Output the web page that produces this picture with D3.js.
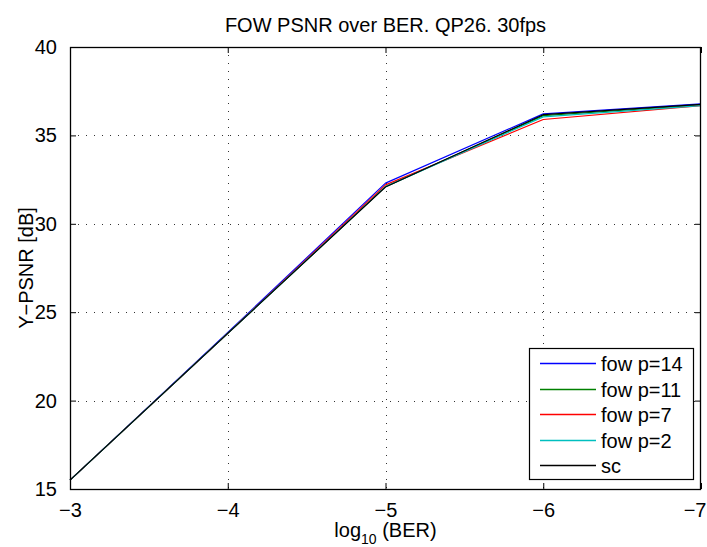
<!DOCTYPE html>
<html>
<head>
<meta charset="utf-8">
<script src="https://cdn.jsdelivr.net/npm/d3@7"></script>
<style>
  html, body { margin: 0; padding: 0; background: #fff; }
  svg text { font-family: "Liberation Sans", Arial, Helvetica, sans-serif; fill: #000; }
</style>
</head>
<body>
<svg id="chart" width="707" height="547"></svg>
<script>
// log10(BER) sample points
const logBER = [-3, -4, -5, -6, -7];

// Y-PSNR [dB] per configuration
const fowP14 = [15.5, 23.85, 32.3, 36.22, 36.78];
const fowP11 = [15.5, 23.8, 32.1, 36.12, 36.72];
const fowP7  = [15.5, 23.8, 32.2, 35.9, 36.68];
const fowP2  = [15.5, 23.8, 32.1, 36.05, 36.68];
const sc     = [15.5, 23.8, 32.08, 36.17, 36.75];

const seriesNames = ["fow p=14", "fow p=11", "fow p=7", "fow p=2", "sc"];
const seriesColors = ["#0000ff", "#008000", "#ff0000", "#00bfbf", "#000000"];
const seriesValues = [fowP14, fowP11, fowP7, fowP2, sc];

const xTicks = [-3, -4, -5, -6, -7];
const yTicks = [15, 20, 25, 30, 35, 40];

const titleText = "FOW PSNR over BER. QP26. 30fps";
const yLabelText = "Y\u2212PSNR [dB]";

const svg = d3.select("#chart");
const W = 707;
const m = { left: 70, right: 701, top: 47, bottom: 489 };

const x = d3.scaleLinear().domain([-3, -7]).range([m.left, m.right]);
const y = d3.scaleLinear().domain([15, 40]).range([m.bottom, m.top]);

const fontSize = 20;
const tickLen = 6;

// dotted grid
const grid = svg.append("g");
xTicks.slice(1, -1).forEach(t => {
  grid.append("line")
    .attr("x1", Math.round(x(t)) + 0.5).attr("x2", Math.round(x(t)) + 0.5)
    .attr("y1", m.top).attr("y2", m.bottom)
    .attr("stroke", "#333").attr("stroke-width", 1)
    .attr("stroke-dasharray", "1,7");
});
yTicks.slice(1, -1).forEach(t => {
  grid.append("line")
    .attr("x1", m.left).attr("x2", m.right)
    .attr("y1", Math.round(y(t)) + 0.5).attr("y2", Math.round(y(t)) + 0.5)
    .attr("stroke", "#333").attr("stroke-width", 1)
    .attr("stroke-dasharray", "1,7");
});

// data lines
const line = d3.line()
  .x((d, i) => x(logBER[i]))
  .y(d => y(d));

seriesValues.forEach((vals, k) => {
  svg.append("path")
    .datum(vals)
    .attr("d", line)
    .attr("fill", "none")
    .attr("stroke", seriesColors[k])
    .attr("stroke-width", 1.2)
    .attr("stroke-linejoin", "round");
});

// axes: inward ticks on all four sides
const fmt = d3.format("d");
const bottomAxis = d3.axisBottom(x).tickValues(xTicks).tickSizeInner(-tickLen).tickSizeOuter(0).tickPadding(tickLen + 8).tickFormat(fmt);
const topAxis = d3.axisTop(x).tickValues(xTicks).tickSizeInner(-tickLen).tickSizeOuter(0).tickFormat("");
const leftAxis = d3.axisLeft(y).tickValues(yTicks).tickSizeInner(-tickLen).tickSizeOuter(0).tickPadding(tickLen + 7).tickFormat(fmt);
const rightAxis = d3.axisRight(y).tickValues(yTicks).tickSizeInner(-tickLen).tickSizeOuter(0).tickFormat("");

function styleAxis(g) {
  g.select(".domain").remove();
  g.selectAll(".tick line").attr("stroke", "#000").attr("stroke-width", 1);
  g.selectAll(".tick text")
    .style("font-family", "'Liberation Sans', Arial, sans-serif")
    .style("font-size", fontSize + "px")
    .attr("fill", "#000");
}

const gBottom = svg.append("g").attr("transform", `translate(0,${m.bottom})`).call(bottomAxis).call(styleAxis);
svg.append("g").attr("transform", `translate(0,${m.top})`).call(topAxis).call(styleAxis);
svg.append("g").attr("transform", `translate(${m.left},0)`).call(leftAxis).call(styleAxis);
svg.append("g").attr("transform", `translate(${m.right},0)`).call(rightAxis).call(styleAxis);

// keep the last x tick label inside the figure
gBottom.selectAll(".tick text").each(function () {
  const bb = this.getBBox();
  const tx = +d3.select(this.parentNode).attr("transform").match(/translate\(([-\d.]+)/)[1];
  const right = tx + bb.x + bb.width;
  if (right > W) d3.select(this).attr("x", W - right - 0.5);
});

// axes box
svg.append("rect")
  .attr("x", m.left + 0.5).attr("y", m.top + 0.5)
  .attr("width", m.right - m.left - 1).attr("height", m.bottom - m.top)
  .attr("fill", "none").attr("stroke", "#000").attr("stroke-width", 1.3);

// title
svg.append("text")
  .attr("x", (m.left + m.right) / 2).attr("y", 32)
  .attr("text-anchor", "middle")
  .style("font-size", "20px")
  .text(titleText);

// x label with subscript
const xl = svg.append("text")
  .attr("x", (m.left + m.right) / 2).attr("y", 537)
  .attr("text-anchor", "middle")
  .style("font-size", fontSize + "px");
xl.append("tspan").text("log");
xl.append("tspan").attr("dy", 7).style("font-size", "14px").text("10");
xl.append("tspan").attr("dy", -7).text(" (BER)");

// y label
svg.append("text")
  .attr("transform", `translate(33,${(m.top + m.bottom) / 2}) rotate(-90)`)
  .attr("text-anchor", "middle")
  .style("font-size", fontSize + "px")
  .text(yLabelText);

// legend
const lg = { x: 529, y: 348, w: 164, h: 131, row: 25.5 };
svg.append("rect")
  .attr("x", lg.x + 0.5).attr("y", lg.y + 0.5)
  .attr("width", lg.w).attr("height", lg.h)
  .attr("fill", "#fff").attr("stroke", "#000").attr("stroke-width", 1.2);

seriesNames.forEach((name, k) => {
  const cy = Math.round(lg.y + 15 + k * lg.row) + 0.5;
  svg.append("line")
    .attr("x1", lg.x + 11).attr("x2", lg.x + 67)
    .attr("y1", cy).attr("y2", cy)
    .attr("stroke", seriesColors[k]).attr("stroke-width", 1.4);
  svg.append("text")
    .attr("x", lg.x + 72).attr("y", cy)
    .attr("dy", "0.35em")
    .style("font-size", fontSize + "px")
    .text(name);
});
</script>
</body>
</html>
